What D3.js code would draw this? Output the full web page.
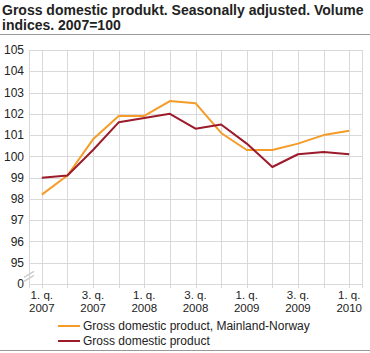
<!DOCTYPE html>
<html>
<head>
<meta charset="utf-8">
<script src="https://cdn.jsdelivr.net/npm/d3@7"></script>
<style>
  body { margin: 0; background: #fff; }
  svg { font-family: "Liberation Sans", Arial, sans-serif; }
</style>
</head>
<body>
<div id="chart"></div>
<script>
// quarters 1q2007 .. 1q2010
var quarters = ["2007Q1","2007Q2","2007Q3","2007Q4","2008Q1","2008Q2","2008Q3","2008Q4","2009Q1","2009Q2","2009Q3","2009Q4","2010Q1"];
var mainland = [98.2, 99.1, 100.8, 101.9, 101.9, 102.6, 102.5, 101.1, 100.3, 100.3, 100.6, 101.0, 101.2];
var gdp = [99.0, 99.1, 100.3, 101.6, 101.8, 102.0, 101.3, 101.5, 100.6, 99.5, 100.1, 100.2, 100.1];
var yTicks = [94, 95, 96, 97, 98, 99, 100, 101, 102, 103, 104, 105];
var yTickLabels = ["0", "95", "96", "97", "98", "99", "100", "101", "102", "103", "104", "105"];
var seriesNames = ["Gross domestic product, Mainland-Norway", "Gross domestic product"];
var colors = ["#f59b28", "#9b1b2a"];

var width = 370, height = 353;
var margin = { top: 50, right: 8, bottom: 69, left: 29 };

var svg = d3.select("#chart").append("svg")
  .attr("width", width)
  .attr("height", height);

// title
var title = svg.append("text")
  .attr("font-size", "14px")
  .attr("font-weight", "bold")
  .attr("fill", "#222");
title.append("tspan").attr("x", 2).attr("y", 15).text("Gross domestic produkt. Seasonally adjusted. Volume");
title.append("tspan").attr("x", 2).attr("y", 30).text("indices. 2007=100");

svg.append("line")
  .attr("x1", 0).attr("x2", width)
  .attr("y1", 34.5).attr("y2", 34.5)
  .attr("stroke", "#999").attr("stroke-width", 1);

svg.append("line")
  .attr("x1", 0).attr("x2", width)
  .attr("y1", 350.5).attr("y2", 350.5)
  .attr("stroke", "#999").attr("stroke-width", 1);

var x = d3.scalePoint()
  .domain(quarters)
  .range([margin.left, width - margin.right])
  .padding(0.5);

var y = d3.scaleLinear()
  .domain([94, 105])
  .range([height - margin.bottom, margin.top]);

var g = svg.append("g");

// horizontal grid
g.selectAll(".hgrid")
  .data(yTicks)
  .join("line")
  .attr("x1", margin.left).attr("x2", width - margin.right)
  .attr("y1", d => Math.round(y(d)) + 0.5).attr("y2", d => Math.round(y(d)) + 0.5)
  .attr("stroke", "#d9d9d9");

// vertical grid
var vx = [margin.left].concat(quarters.map(q => x(q))).concat([width - margin.right]);
g.selectAll(".vgrid")
  .data(vx)
  .join("line")
  .attr("x1", d => Math.round(d) + 0.5).attr("x2", d => Math.round(d) + 0.5)
  .attr("y1", y(105)).attr("y2", y(94) + 4)
  .attr("stroke", "#d9d9d9");

// y labels
g.selectAll(".ylab")
  .data(yTicks)
  .join("text")
  .attr("x", 24)
  .attr("y", d => y(d))
  .attr("dy", "0.35em")
  .attr("text-anchor", "end")
  .attr("font-size", "12px")
  .attr("fill", "#222")
  .text((d, i) => yTickLabels[i]);

// axis break marker
var by = (y(94) + y(95)) / 2 + 1;
[0, 4].forEach(function (o) {
  svg.append("line")
    .attr("x1", 24).attr("y1", by + 3 + o)
    .attr("x2", 34).attr("y2", by - 3 + o)
    .attr("stroke", "#ccc").attr("stroke-width", 1.5);
});

// x labels
var xl = g.selectAll(".xlab")
  .data(quarters.filter((q, i) => i % 2 == 0))
  .join("text")
  .attr("text-anchor", "middle")
  .attr("font-size", "11.5px")
  .attr("fill", "#222");
xl.append("tspan")
  .attr("x", d => x(d))
  .attr("y", 299)
  .text(d => d.slice(4) == "Q1" ? "1. q." : "3. q.");
xl.append("tspan")
  .attr("x", d => x(d))
  .attr("y", 312)
  .text(d => d.slice(0, 4));

// lines
var line = d3.line()
  .x((d, i) => x(quarters[i]))
  .y(d => y(d));

[mainland, gdp].forEach(function (s, k) {
  svg.append("path")
    .datum(s)
    .attr("fill", "none")
    .attr("stroke", colors[k])
    .attr("stroke-width", 2)
    .attr("stroke-linejoin", "round")
    .attr("d", line);
});

// legend
seriesNames.forEach(function (n, k) {
  var ly = 326 + k * 15;
  svg.append("line")
    .attr("x1", 58).attr("x2", 80)
    .attr("y1", ly).attr("y2", ly)
    .attr("stroke", colors[k]).attr("stroke-width", 2);
  svg.append("text")
    .attr("x", 83).attr("y", ly)
    .attr("dy", "0.35em")
    .attr("font-size", "12px")
    .attr("fill", "#222")
    .text(n);
});
</script>
</body>
</html>
